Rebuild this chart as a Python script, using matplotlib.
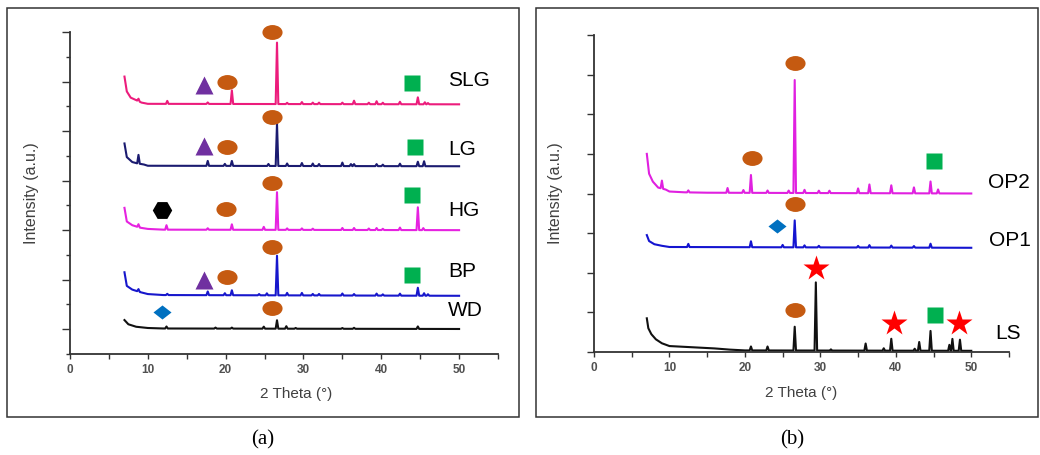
import numpy as np
import matplotlib
matplotlib.use("Agg")
import matplotlib.pyplot as plt
from matplotlib.path import Path
from matplotlib.patches import Rectangle
from matplotlib.transforms import Affine2D
from matplotlib.ticker import MultipleLocator, NullFormatter

plt.rcParams['font.family'] = ['Liberation Sans', 'DejaVu Sans']

# ---- panel (a) data: background vertices + peaks (position, height above background)
slg_bg_x = [7, 7.3, 7.8, 8.5, 9.2, 10, 50]
slg_bg_y = [11.2, 10.6, 10.35, 10.25, 10.15, 10.1, 10.08]
slg_pk_x = [8.8, 12.5, 17.7, 20.8, 26.6, 27.9, 29.8, 31.2, 32.0, 35.0, 36.5, 38.4, 39.4, 40.2, 42.4, 44.7, 45.6, 46.0]
slg_pk_h = [0.1, 0.12, 0.06, 0.55, 2.48, 0.05, 0.08, 0.06, 0.06, 0.06, 0.14, 0.06, 0.12, 0.06, 0.1, 0.28, 0.08, 0.05]

lg_bg_x = [7, 7.3, 8, 8.6, 9.5, 10, 50]
lg_bg_y = [8.5, 7.95, 7.75, 7.7, 7.65, 7.6, 7.58]
lg_pk_x = [8.8, 17.7, 19.9, 20.8, 25.5, 26.6, 27.9, 29.8, 31.2, 32.0, 35.0, 36.1, 36.5, 39.4, 40.2, 42.4, 44.7, 45.5]
lg_pk_h = [0.35, 0.2, 0.08, 0.2, 0.08, 1.72, 0.1, 0.12, 0.1, 0.08, 0.14, 0.08, 0.08, 0.08, 0.06, 0.1, 0.18, 0.2]

hg_bg_x = [7, 7.3, 8, 9, 10, 12, 50]
hg_bg_y = [5.9, 5.35, 5.2, 5.1, 5.05, 5.02, 5.0]
hg_pk_x = [8.8, 12.4, 17.7, 20.8, 24.9, 26.6, 27.9, 29.8, 31.2, 35.0, 36.5, 38.4, 39.4, 40.2, 42.4, 44.7, 45.4]
hg_pk_h = [0.12, 0.18, 0.06, 0.22, 0.12, 1.52, 0.06, 0.06, 0.05, 0.08, 0.08, 0.06, 0.08, 0.05, 0.1, 0.92, 0.08]

bp_bg_x = [7, 7.3, 8, 9, 10, 12, 50]
bp_bg_y = [3.3, 2.75, 2.6, 2.5, 2.42, 2.38, 2.35]
bp_pk_x = [8.8, 12.5, 17.7, 19.9, 20.8, 24.3, 25.3, 26.6, 27.9, 29.8, 31.2, 32.0, 35.0, 36.5, 39.4, 40.2, 42.4, 44.7, 45.5, 46.0]
bp_pk_h = [0.1, 0.05, 0.15, 0.08, 0.2, 0.05, 0.08, 1.6, 0.1, 0.1, 0.06, 0.06, 0.08, 0.06, 0.08, 0.05, 0.08, 0.32, 0.1, 0.06]

wd_bg_x = [7, 7.5, 8.5, 10, 12, 50]
wd_bg_y = [1.37, 1.2, 1.1, 1.05, 1.03, 1.01]
wd_pk_x = [12.4, 18.7, 20.8, 24.9, 26.6, 27.8, 29.0, 35.0, 36.5, 44.7]
wd_pk_h = [0.08, 0.04, 0.04, 0.08, 0.34, 0.1, 0.03, 0.03, 0.04, 0.1]

# ---- panel (b) data
op2_bg_x = [7, 7.3, 7.8, 8.5, 9.5, 10, 12, 15, 50]
op2_bg_y = [5.0, 4.5, 4.3, 4.15, 4.1, 4.05, 4.03, 4.02, 4.0]
op2_pk_x = [9.0, 12.5, 17.7, 19.8, 20.8, 23.0, 25.8, 26.6, 27.9, 29.8, 31.2, 35.0, 36.5, 39.4, 42.4, 44.6, 45.6]
op2_pk_h = [0.2, 0.05, 0.12, 0.07, 0.45, 0.06, 0.06, 2.85, 0.08, 0.06, 0.06, 0.12, 0.22, 0.2, 0.15, 0.3, 0.1]

op1_bg_x = [7, 7.3, 8, 9, 10, 50]
op1_bg_y = [2.95, 2.8, 2.72, 2.68, 2.65, 2.63]
op1_pk_x = [12.5, 20.8, 25.0, 26.6, 27.9, 29.8, 35.0, 36.5, 39.4, 42.4, 44.6]
op1_pk_h = [0.08, 0.15, 0.06, 0.68, 0.05, 0.04, 0.04, 0.06, 0.05, 0.04, 0.1]

ls_bg_x = [7, 7.2, 7.6, 8.2, 9, 10, 13, 16, 18, 20, 50]
ls_bg_y = [0.85, 0.6, 0.45, 0.32, 0.22, 0.15, 0.12, 0.09, 0.06, 0.04, 0.03]
ls_pk_x = [20.8, 23.0, 26.6, 29.4, 31.4, 36.0, 38.4, 39.4, 42.5, 43.1, 44.6, 47.1, 47.5, 48.5]
ls_pk_h = [0.1, 0.1, 0.6, 1.72, 0.03, 0.18, 0.06, 0.3, 0.05, 0.22, 0.5, 0.15, 0.3, 0.28]

# ---- phase markers (2theta, level) and sample labels
a_labels = ['SLG', 'LG', 'HG', 'BP', 'WD']
a_label_y = [11.05, 8.27, 5.8, 3.35, 1.77]
a_circle_x = [20.2, 26.0, 20.2, 26.0, 20.0, 25.9, 20.2, 26.0, 25.9]
a_circle_y = [11.0, 13.0, 8.35, 9.57, 5.85, 6.9, 3.1, 4.3, 1.85]
a_tri_x = [17.2, 17.2, 17.2]
a_tri_y = [10.85, 8.4, 3.0]
a_sq_x = [43.9, 44.3, 43.9, 43.9]
a_sq_y = [10.95, 8.35, 6.4, 3.2]
a_hex_x = [11.8]
a_hex_y = [5.8]
a_dia_x = [11.8]
a_dia_y = [1.7]

b_labels = ['OP2', 'OP1', 'LS']
b_label_x = [52.2, 52.4, 53.2]
b_label_y = [4.27, 2.81, 0.47]
b_circle_x = [26.6, 20.9, 26.6, 26.6]
b_circle_y = [7.3, 4.9, 3.73, 1.06]
b_sq_x = [45.0, 45.2]
b_sq_y = [4.83, 0.93]
b_dia_x = [24.3]
b_dia_y = [3.18]
b_star_x = [29.4, 39.7, 48.4]
b_star_y = [2.12, 0.74, 0.74]


def trace(bg_x, bg_y, pk_x, pk_h, w=0.17):
    bg_x = np.asarray(bg_x, float)
    bg_y = np.asarray(bg_y, float)
    pk_x = np.asarray(pk_x, float)
    keep = np.ones(len(bg_x), bool)
    for p in pk_x:
        keep &= ~((bg_x > p - w) & (bg_x < p + w))
    xs = list(bg_x[keep])
    ys = list(bg_y[keep])
    for p, h in zip(pk_x, pk_h):
        feet = np.interp([p - w, p, p + w], bg_x, bg_y)
        xs += [p - w, p, p + w]
        ys += [feet[0], feet[1] + h, feet[2]]
    order = np.argsort(xs, kind='stable')
    return np.array(xs)[order], np.array(ys)[order]


ell = Path.unit_circle().transformed(Affine2D().scale(1.0, 0.74))
dia = Path([(0, 0.78), (1, 0), (0, -0.78), (-1, 0), (0, 0.78)],
           [Path.MOVETO, Path.LINETO, Path.LINETO, Path.LINETO, Path.CLOSEPOLY])

ORANGE = '#C55A11'
PURPLE = '#7030A0'
GREEN = '#00B050'
BLUE = '#0070C0'
AXC = '#333333'
TXC = '#404040'

fig = plt.figure(figsize=(10.4, 4.55), dpi=100)

# panel frames
fig.patches.append(Rectangle((7 / 1040, 38 / 455), 512 / 1040, 409 / 455, transform=fig.transFigure,
                             fill=False, edgecolor=AXC, linewidth=1.1))
fig.patches.append(Rectangle((536 / 1040, 38 / 455), 502 / 1040, 409 / 455, transform=fig.transFigure,
                             fill=False, edgecolor=AXC, linewidth=1.1))

ax1 = fig.add_axes([70 / 1040, 101 / 455, 428 / 1040, 322 / 455])
ax2 = fig.add_axes([594 / 1040, 103 / 455, 415 / 1040, 317 / 455])

for ax in (ax1, ax2):
    ax.set_facecolor('none')
    for s in ('top', 'right'):
        ax.spines[s].set_visible(False)
    for s in ('left', 'bottom'):
        ax.spines[s].set_color(AXC)
        ax.spines[s].set_linewidth(1.3)
    ax.set_xlim(0, 55)
    ax.xaxis.set_major_locator(MultipleLocator(10))
    ax.xaxis.set_minor_locator(MultipleLocator(5))
    ax.tick_params(axis='x', which='both', direction='out', length=3.5, width=1, color=AXC,
                   labelsize=8.5, labelcolor='#505050', pad=4)
    ax.tick_params(axis='y', which='both', direction='out', width=1, color=AXC, labelleft=False)
    ax.set_xlabel('2 Theta (°)', fontsize=11, color=TXC)
    ax.set_ylabel('Intensity (a.u.)', fontsize=11.5, color=TXC)
    for t in ax.get_xticklabels():
        t.set_fontweight('bold')

# ---- panel (a)
ax1.set_ylim(0, 13)
ax1.yaxis.set_major_locator(MultipleLocator(2, offset=1))
ax1.yaxis.set_minor_locator(MultipleLocator(1))
ax1.yaxis.set_minor_formatter(NullFormatter())
ax1.tick_params(axis='y', which='major', length=6)
ax1.tick_params(axis='y', which='minor', length=3)
ax1.xaxis.set_label_coords(0.528, -0.102)
ax1.yaxis.set_label_coords(-0.072, 0.5)

a_series = [
    (slg_bg_x, slg_bg_y, slg_pk_x, slg_pk_h, '#EC1C7C'),
    (lg_bg_x, lg_bg_y, lg_pk_x, lg_pk_h, '#1B1B70'),
    (hg_bg_x, hg_bg_y, hg_pk_x, hg_pk_h, '#E622E0'),
    (bp_bg_x, bp_bg_y, bp_pk_x, bp_pk_h, '#1717CC'),
    (wd_bg_x, wd_bg_y, wd_pk_x, wd_pk_h, '#111111'),
]
for bx, by, px, ph, c in a_series:
    x, y = trace(bx, by, px, ph)
    ax1.plot(x, y, color=c, lw=1.5, zorder=2)

mk = dict(ls='none', mec='none', zorder=3, clip_on=False)
ax1.plot(a_circle_x, a_circle_y, marker=ell, ms=14.5, color=ORANGE, **mk)
ax1.plot(a_tri_x, a_tri_y, marker='^', ms=13.5, color=PURPLE, **mk)
ax1.plot(a_sq_x, a_sq_y, marker='s', ms=12, color=GREEN, **mk)
ax1.plot(a_hex_x, a_hex_y, marker='H', ms=14, color='black', **mk)
ax1.plot(a_dia_x, a_dia_y, marker=dia, ms=13, color=BLUE, **mk)
for lab, ly in zip(a_labels, a_label_y):
    ax1.text(48.6, ly, lab, fontsize=15, va='center', ha='left', color='black')

# ---- panel (b)
ax2.set_ylim(0, 8)
ax2.yaxis.set_major_locator(MultipleLocator(1))
ax2.tick_params(axis='y', which='major', length=5)
ax2.xaxis.set_label_coords(0.499, -0.107)
ax2.yaxis.set_label_coords(-0.075, 0.5)

b_series = [
    (op2_bg_x, op2_bg_y, op2_pk_x, op2_pk_h, '#E020E0'),
    (op1_bg_x, op1_bg_y, op1_pk_x, op1_pk_h, '#1414D0'),
    (ls_bg_x, ls_bg_y, ls_pk_x, ls_pk_h, '#111111'),
]
for bx, by, px, ph, c in b_series:
    x, y = trace(bx, by, px, ph)
    ax2.plot(x, y, color=c, lw=1.5, zorder=2)

ax2.plot(b_circle_x, b_circle_y, marker=ell, ms=14.5, color=ORANGE, **mk)
ax2.plot(b_sq_x, b_sq_y, marker='s', ms=12, color=GREEN, **mk)
ax2.plot(b_dia_x, b_dia_y, marker=dia, ms=13, color=BLUE, **mk)
ax2.plot(b_star_x, b_star_y, marker='*', ms=19, color='#FF0000', **mk)
for lab, lx, ly in zip(b_labels, b_label_x, b_label_y):
    ax2.text(lx, ly, lab, fontsize=15, va='center', ha='left', color='black', clip_on=False)

# captions
fig.text(263 / 1040, 1 - 440 / 455, '(a)', fontsize=15, family='Liberation Serif', ha='center', va='center')
fig.text(792 / 1040, 1 - 440 / 455, '(b)', fontsize=15, family='Liberation Serif', ha='center', va='center')

fig.savefig('out.png', dpi=100)
